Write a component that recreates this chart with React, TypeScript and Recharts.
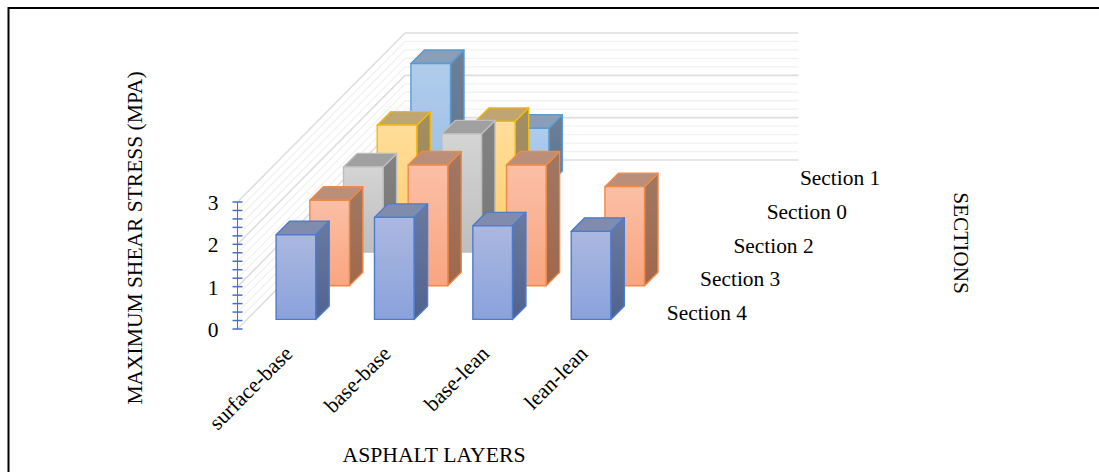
import { Bar, BarChart, CartesianGrid, XAxis, YAxis } from 'recharts'

const layers = ['surface-base', 'base-base', 'base-lean', 'lean-lean']
const section1 = [2.86, 1.33, null, null]
const section0 = [2.2, 2.29, null, null]
const section2 = [2.01, 2.79, null, null]
const section3 = [2.02, 2.85, 2.85, 2.34]
const section4 = [2.0, 2.41, 2.21, 2.08]
const yTicks = [0, 0.2, 0.4, 0.6, 0.8, 1, 1.2, 1.4, 1.6, 1.8, 2, 2.2, 2.4, 2.6, 2.8, 3]

const FONT = '"Liberation Serif", serif'
const DEPTH_STEP = 33.7
const LABEL_STEP = 33.3
const BAR_DEPTH = 13.5
const FRONT_GAP = 9.6
const WALL_X = 167.5
const WALL_Y = 169

const PALETTE = {
  s4: { stroke: '#4F7BCB', top: '#7F8CAD', faceA: '#ABB8E0', faceB: '#8AA2DB', sideA: '#6A7AA0', sideB: '#50638F' },
  s3: { stroke: '#EE8A48', top: '#BA8E78', faceA: '#FBBFA6', faceB: '#F9A580', sideA: '#A07863', sideB: '#A0684C' },
  s2: { stroke: '#BDBDBD', top: '#A0A0A0', faceA: '#D4D4D4', faceB: '#BEBEBE', sideA: '#828282', sideB: '#787878' },
  s0: { stroke: '#F2B90F', top: '#BFA572', faceA: '#FFDD99', faceB: '#FFD27A', sideA: '#A38F63', sideB: '#9C8755' },
  s1: { stroke: '#5B9BD5', top: '#899EB8', faceA: '#AFCCEB', faceB: '#9CBFE6', sideA: '#6C7F98', sideB: '#62758F' },
}

const sections = [
  { key: 's1', name: 'Section 1', values: section1, slot: 4 },
  { key: 's0', name: 'Section 0', values: section0, slot: 3 },
  { key: 's2', name: 'Section 2', values: section2, slot: 2 },
  { key: 's3', name: 'Section 3', values: section3, slot: 1 },
  { key: 's4', name: 'Section 4', values: section4, slot: 0 },
] as const

const tableData = layers.map((layer, i) => {
  const row: Record<string, string | number | null> = { layer }
  sections.forEach(s => { row[s.key] = s.values[i] })
  return row
})

// Oblique box: the library gives the front face, depth is pushed back by slot
function Box3D(props: any) {
  const { x, y, width, height, sectionKey, slot } = props
  if (!height || height <= 0) return null
  const c = PALETTE[sectionKey as keyof typeof PALETTE]
  const shift = FRONT_GAP + DEPTH_STEP * slot
  const l = x + shift
  const r = l + width
  const t = y - shift
  const b = t + height
  const d = BAR_DEPTH
  return (
    <g stroke={c.stroke} strokeWidth={1.4} strokeLinejoin="round">
      <polygon points={`${r},${t} ${r + d},${t - d} ${r + d},${b - d} ${r},${b}`} fill={`url(#side-${sectionKey})`} />
      <polygon points={`${l},${t} ${l + d},${t - d} ${r + d},${t - d} ${r},${t}`} fill={c.top} />
      <rect x={l} y={t} width={width} height={height} fill={`url(#face-${sectionKey})`} />
    </g>
  )
}

// Wall lines sit behind the bars: one run along the back, one diagonal along the side
function WallLine(props: any) {
  const { x1, x2, y1, index } = props
  const major = index % 5 === 0
  const stroke = major ? '#DEDEDE' : '#F1F1F1'
  const sw = major ? 1.6 : 1.3
  return (
    <g key={index}>
      <line x1={x1 + WALL_X} x2={x2 + WALL_X} y1={y1 - WALL_Y} y2={y1 - WALL_Y} stroke={stroke} strokeWidth={sw} />
      <line x1={x1} y1={y1} x2={x1 + WALL_X} y2={y1 - WALL_Y} stroke={stroke} strokeWidth={sw} />
    </g>
  )
}

function ValueTick(props: any) {
  const { x, y, payload } = props
  const whole = Number.isInteger(payload.value)
  return (
    <g>
      <line x1={x - 5} x2={x + 5} y1={y} y2={y} stroke="#4472C4" strokeWidth={1.5} />
      {whole && (
        <text x={x - 19} y={y + 8} fontSize={21.5} fontFamily={FONT} fill="#000" textAnchor="end">
          {payload.value}
        </text>
      )}
    </g>
  )
}

function LayerTick(props: any) {
  const { x, y, payload } = props
  return (
    <text
      x={x + 7}
      y={y + 18}
      fontSize={21.5}
      fontFamily={FONT}
      fill="#000"
      textAnchor="end"
      transform={`rotate(-45 ${x + 7} ${y + 18})`}
    >
      {payload.value}
    </text>
  )
}

export default function App() {
  return (
    <div style={{ position: 'absolute', left: 0, top: 0, width: 1099, height: 472, background: '#fff', overflow: 'hidden' }}>
      <BarChart
        width={1099}
        height={472}
        data={tableData}
        barSize={39.6}
        barGap={-39.6}
        margin={{ top: 202, right: 468, bottom: 0, left: 177.5 }}
      >
        <defs>
          {sections.map(s => {
            const c = PALETTE[s.key]
            return [
              <linearGradient key={`f${s.key}`} id={`face-${s.key}`} x1="0" y1="0" x2="0" y2="1">
                <stop offset="0%" stopColor={c.faceA} />
                <stop offset="100%" stopColor={c.faceB} />
              </linearGradient>,
              <linearGradient key={`d${s.key}`} id={`side-${s.key}`} x1="0" y1="0" x2="0" y2="1">
                <stop offset="0%" stopColor={c.sideA} />
                <stop offset="100%" stopColor={c.sideB} />
              </linearGradient>,
            ]
          })}
        </defs>
        <line x1={8.5} x2={8.5} y1={7} y2={472} stroke="#000" strokeWidth={2} />
        <line x1={8} x2={1099} y1={8} y2={8} stroke="#000" strokeWidth={2} />
        <CartesianGrid vertical={false} horizontal={<WallLine />} horizontalValues={yTicks} />
        <XAxis dataKey="layer" axisLine={false} tickLine={false} tick={<LayerTick />} interval={0} height={143} />
        <YAxis
          width={60}
          domain={[0, 3]}
          ticks={yTicks}
          interval={0}
          stroke="#4472C4"
          tickLine={false}
          tickSize={0}
          tickMargin={0}
          tick={<ValueTick />}
        />
        {sections.map(s => (
          <Bar
            key={s.key}
            dataKey={s.key}
            name={s.name}
            isAnimationActive={false}
            shape={(p: any) => <Box3D {...p} sectionKey={s.key} slot={s.slot} />}
          />
        ))}
        {sections.map(s => (
          <text
            key={`label-${s.key}`}
            x={747 + LABEL_STEP * s.slot}
            y={320 - DEPTH_STEP * s.slot}
            fontSize={21.4}
            fontFamily={FONT}
            textAnchor="end"
          >
            {s.name}
          </text>
        ))}
        <text x={434} y={462} fontSize={21.7} fontFamily={FONT} textAnchor="middle">ASPHALT LAYERS</text>
        <text x={0} y={0} fontSize={21.5} fontFamily={FONT} textAnchor="middle" transform="translate(142 238) rotate(-90)">
          MAXIMUM SHEAR STRESS (MPA)
        </text>
        <text x={0} y={0} fontSize={21.3} fontFamily={FONT} textAnchor="middle" transform="translate(954 243) rotate(90)">
          SECTIONS
        </text>
      </BarChart>
    </div>
  )
}
